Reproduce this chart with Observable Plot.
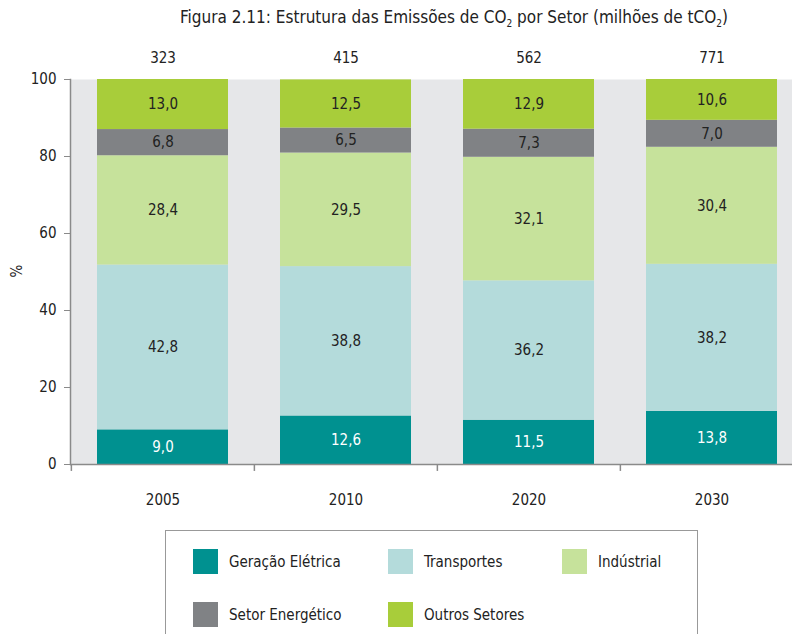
<!DOCTYPE html>
<html>
<head>
<meta charset="utf-8">
<script src="https://cdn.jsdelivr.net/npm/d3@7"></script>
<script src="https://cdn.jsdelivr.net/npm/@observablehq/plot@0.6"></script>
<style>
  html, body { margin: 0; padding: 0; background: #fff; overflow: hidden; }
  body { font-family: "DejaVu Sans Condensed", "Liberation Sans Narrow", sans-serif; font-stretch: condensed; color: #222; }
  #wrap { position: relative; width: 792px; height: 634px; overflow: hidden; }
  #title { position: absolute; left: 58px; top: 7px; width: 792px; text-align: center; font-size: 17px; }
  #title sub { font-size: 10px; vertical-align: -4px; line-height: 0; }
  #chart { position: absolute; left: 0; top: 0; }
  #chart svg { max-width: none !important; }
  #legend { position: absolute; left: 165px; top: 530px; width: 533px; height: 120px; border: 1px solid #999; box-sizing: border-box; }
  .item { position: absolute; display: flex; align-items: center; font-size: 15px; }
  .sw { width: 25px; height: 25px; margin-right: 11px; }
</style>
</head>
<body>
<div id="wrap">
  <div id="chart"></div>
  <div id="title">Figura 2.11: Estrutura das Emissões de CO<sub>2</sub> por Setor (milhões de tCO<sub>2</sub>)</div>
  <div id="legend"></div>
</div>
<script>
const years = ["2005", "2010", "2020", "2030"];
const totals = [323, 415, 562, 771];
const sectors = ["Geração Elétrica", "Transportes", "Indústrial", "Setor Energético", "Outros Setores"];
const colors = ["#009190", "#b4dbdb", "#c6e29b", "#808285", "#a8cd3a"];
const geracao = [9.0, 12.6, 11.5, 13.8];
const transportes = [42.8, 38.8, 36.2, 38.2];
const industrial = [28.4, 29.5, 32.1, 30.4];
const energetico = [6.8, 6.5, 7.3, 7.0];
const outros = [13.0, 12.5, 12.9, 10.6];
const yTicks = [0, 20, 40, 60, 80, 100];

const series = [geracao, transportes, industrial, energetico, outros];
const data = [];
years.forEach((yr, i) => {
  sectors.forEach((s, j) => data.push({year: yr, sector: s, value: series[j][i]}));
});
const totalData = years.map((yr, i) => ({year: yr, total: totals[i]}));
const fmt = v => v.toFixed(1).replace(".", ",");

const font = '"DejaVu Sans Condensed", "Liberation Sans Narrow", sans-serif';
const W = 803, ML = 70;
const step = (W - ML) / years.length;

const plot = Plot.plot({
  width: W,
  height: 520,
  marginLeft: ML,
  marginRight: 0,
  marginTop: 79,
  marginBottom: 56,
  style: {fontFamily: font, fontSize: "15px", color: "#222", overflow: "visible", maxWidth: "none"},
  x: {domain: years, paddingInner: 0.285, paddingOuter: 0.1425, axis: null},
  y: {domain: [0, 100], axis: null},
  color: {domain: sectors, range: colors},
  marks: [
    Plot.frame({fill: "#e6e7e9", stroke: null}),
    Plot.barY(data, Plot.stackY({x: "year", y: "value", fill: "sector", order: sectors})),
    Plot.text(data, Plot.stackY({
      x: "year", y: "value", z: "sector", order: sectors,
      text: d => fmt(d.value),
      fill: d => d.sector === sectors[0] ? "#ffffff" : "#222222",
      fontSize: 15
    })),
    Plot.text(totalData, {x: "year", y: 100, text: d => String(d.total), dy: -21, fontSize: 15, fill: "#222"}),
    Plot.ruleY([0], {stroke: "#8a8a8a", strokeWidth: 1.5}),
    Plot.frame({anchor: "left", stroke: "#8a8a8a", strokeWidth: 1.5}),
    Plot.axisY(yTicks, {tickSize: 6, tickPadding: 8, fontSize: 15, stroke: "#8a8a8a", fill: "#222", label: null}),
    Plot.ruleX(years, {x: d => d, y1: 0, y2: -1.8, dx: -step / 2, stroke: "#8a8a8a", strokeWidth: 1.5}),
    Plot.axisX(years, {tickSize: 0, tickPadding: 30, fontSize: 15, fill: "#222", label: null})
  ]
});
document.getElementById("chart").appendChild(plot);

d3.select(plot).append("text").attr("transform", "translate(22,271) rotate(-90)")
  .attr("text-anchor", "middle").attr("font-size", 15).attr("fill", "#222").text("%");

// legend
const pos = [[27, 18], [222, 18], [396, 18], [27, 71], [222, 71]];
const leg = document.getElementById("legend");
sectors.forEach((s, i) => {
  const it = document.createElement("div");
  it.className = "item";
  it.style.left = pos[i][0] + "px";
  it.style.top = pos[i][1] + "px";
  it.innerHTML = `<div class="sw" style="background:${colors[i]}"></div><span>${s}</span>`;
  leg.appendChild(it);
});
</script>
</body>
</html>
